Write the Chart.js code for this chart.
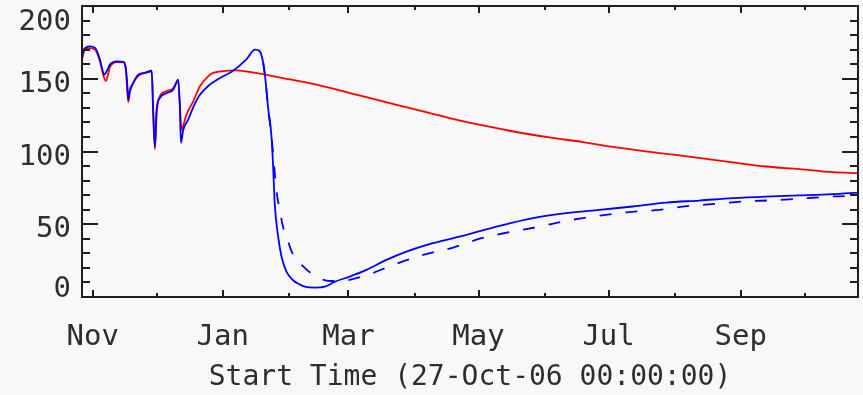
<!DOCTYPE html>
<html>
<head>
<meta charset="utf-8">
<script src="https://cdn.jsdelivr.net/npm/chart.js@4.4.0/dist/chart.umd.min.js"></script>
<style>
html,body{margin:0;padding:0;background:#f8f8f8;}
#wrap{width:863px;height:395px;position:relative;}
</style>
</head>
<body>
<div id="wrap"><canvas id="c" width="863" height="395"></canvas></div>
<script>
// ---- Axis / tick data ----
const xTitle = 'Start Time (27-Oct-06 00:00:00)';
const xMaxDay = 364;                      // days after 27-Oct-06
const monthNames = ['Nov','Dec','Jan','Feb','Mar','Apr','May','Jun','Jul','Aug','Sep','Oct'];
const monthStartDays = [5,35,66,97,125,156,186,217,247,278,309,339];
const labeledMonths = ['Nov','Jan','Mar','May','Jul','Sep'];
const yMin = 0, yMax = 200, yMinorStep = 10;
const yLabelValues = [0,50,100,150,200];

// ---- Series: red (solid) ----
const redDays = [0,1.4,3.7,6.1,8.4,10.3,11.2,13.1,16.3,19.4,20.5,21.7,22.5,24,26.4,29.5,32.7,33.4,34.2,35,36.5,39.7,42.8,45.1,45.9,46.7,47.5,49,52.2,55.3,59.2,61.5,66.2,71.7,78.7,94.3,110,125.6,141.2,156.8,172.4,188,203.7,219.3,234.9,250.6,270.9,286.5,305.2,320.8,336.5,352.1,364];
const redValues = [164,170,171,170,162,151,148.5,158,161.5,161.3,157,134,141,147,152,154,155,125,101.5,126,138,141.5,143.5,148.5,132,115,118,125.3,134.5,144.8,151.7,154,155.3,155.8,154.7,150.5,146,140.2,134.5,128.7,123,117.9,113.4,109.7,106.5,102.8,98.9,96.2,92.5,89.7,87.9,85.8,85.2];

// ---- Series: blue (solid) ----
const blueDays = [0,0.6,1.9,3.7,6.1,8.4,9.4,10.3,11.6,13.1,16.3,19.4,20.5,21.3,21.7,22.5,24,26.4,29.5,32.7,33.4,34.2,35,36.5,39.7,42.8,45.1,45.9,46.4,47.5,49.8,52.2,55.3,59.2,64.7,70.9,77.2,81.1,83.4,85,86,87.3,88.9,89.7,90.4,92,93.6,95.9,99,102.2,104.5,109.2,113.9,118.6,125.6,133.4,142.8,152.2,164.6,180.3,195.9,211.5,227.1,242.7,258.3,274,289.6,305.2,320.8,336.5,352.1,364];
const blueValues = [163,169,171.5,172.3,171.2,163.2,157,152.8,155.1,159.7,162,161.6,158,145,135.6,142.5,147.1,152.8,154,155.5,128.7,103,128.7,136.8,140.2,142.5,149.4,131,106,115,121.9,130.5,139,145,150.5,155.5,163.5,170,168.9,160.9,150,130,110,88,64,41.5,27.7,17.4,11.5,8.5,7.1,6.5,7.1,10.5,14,18.6,25.5,31.2,37,42.7,48.9,54.2,57.6,59.9,62.2,64.9,66.3,67.9,69,69.8,70.7,71.8];

// ---- Series: blue (dashed) ----
const dashDays = [85,86,87.3,88.9,91.4,92.8,94,96.5,98.4,104.5,110,116.2,120.9,133.4,145.9,160,174.1,187.3,201,214.6,227,240,255.4,270.9,283.7,297.1,310.2,324,337.2,350.5,364];
const dashValues = [160.9,150,130,110,71,60,50,39,31,20,14,11,11,15,22,28.9,34,40.4,44.7,48.4,52.3,55.3,58.2,59.9,62.4,64,65.6,66.5,67.6,69,69.5];

const toPoints = (xs, ys) => xs.map((d, i) => ({x: d, y: ys[i]}));

const axisColor = '#1e1e1e';
const textColor = '#2e2e2e';
const tickFont = '29px "DejaVu Sans Mono"';
const titleFont = '28px "DejaVu Sans Mono"';

const idlAxes = {
  id: 'idlAxes',
  afterDraw(chart) {
    const {ctx, chartArea: a} = chart;
    const xs = chart.scales.x, ys = chart.scales.y;
    ctx.save();
    ctx.strokeStyle = axisColor;
    ctx.lineWidth = 2;
    ctx.lineCap = 'butt';
    const seg = (x1, y1, x2, y2) => { ctx.beginPath(); ctx.moveTo(x1, y1); ctx.lineTo(x2, y2); ctx.stroke(); };
    // frame
    ctx.strokeRect(a.left, a.top, a.right - a.left, a.bottom - a.top);
    // y ticks (left & right, inward)
    for (let v = yMin; v <= yMax; v += yMinorStep) {
      const py = Math.round(ys.getPixelForValue(v));
      const major = yLabelValues.includes(v);
      const len = major ? 16 : 8;
      seg(a.left, py, a.left + len, py);
      seg(a.right, py, a.right - len, py);
    }
    // x ticks (bottom & top, inward)
    monthStartDays.forEach((d, i) => {
      const px = Math.round(xs.getPixelForValue(d));
      const major = labeledMonths.includes(monthNames[i]);
      const len = major ? 7 : 4;
      seg(px, a.bottom, px, a.bottom - len);
      seg(px, a.top, px, a.top + len);
    });
    // labels
    ctx.fillStyle = textColor;
    ctx.font = tickFont;
    ctx.textBaseline = 'alphabetic';
    ctx.textAlign = 'right';
    yLabelValues.forEach(v => {
      const py = ys.getPixelForValue(v);
      const base = Math.min(Math.max(py + 13, a.top + 24), a.bottom);
      ctx.fillText(String(v), a.left - 11, base);
    });
    ctx.textAlign = 'center';
    monthStartDays.forEach((d, i) => {
      if (!labeledMonths.includes(monthNames[i])) return;
      ctx.fillText(monthNames[i], xs.getPixelForValue(d), a.bottom + 48);
    });
    ctx.font = titleFont;
    ctx.fillText(xTitle, (a.left + a.right) / 2, a.bottom + 88);
    ctx.restore();
  }
};

new Chart(document.getElementById('c'), {
  type: 'line',
  data: {
    datasets: [
      {label: 'blue', data: toPoints(blueDays, blueValues), borderColor: 'rgb(0,0,255)', borderWidth: 1.8, pointRadius: 0, fill: false, cubicInterpolationMode: 'monotone'},
      {label: 'blue dashed', data: toPoints(dashDays, dashValues), borderColor: 'rgb(0,0,255)', borderWidth: 1.8, borderDash: [12, 14], pointRadius: 0, fill: false, cubicInterpolationMode: 'monotone'},
      {label: 'red', data: toPoints(redDays, redValues), borderColor: 'rgb(255,0,0)', borderWidth: 1.8, pointRadius: 0, fill: false, cubicInterpolationMode: 'monotone'}
    ]
  },
  options: {
    responsive: false,
    animation: false,
    devicePixelRatio: 1,
    layout: {padding: {left: 82, right: 5, top: 6, bottom: 98}},
    plugins: {legend: {display: false}, tooltip: {enabled: false}},
    scales: {
      x: {type: 'linear', min: 0, max: xMaxDay, display: false},
      y: {type: 'linear', min: yMin, max: yMax, display: false}
    }
  },
  plugins: [idlAxes]
});
</script>
</body>
</html>
